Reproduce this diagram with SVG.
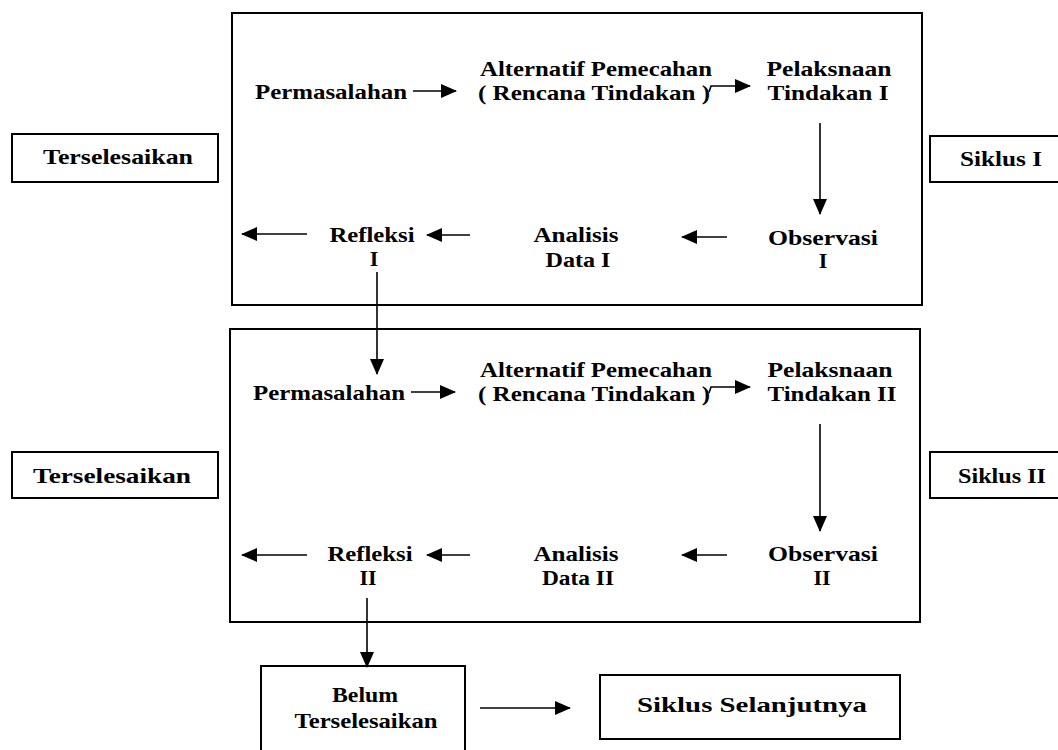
<svg xmlns="http://www.w3.org/2000/svg" width="1058" height="750" viewBox="0 0 1058 750">
<defs>
<marker id="ah" markerUnits="userSpaceOnUse" markerWidth="16" markerHeight="14" refX="15" refY="7" orient="auto">
<path d="M0,0 L16,7 L0,14 Z" fill="#000"/>
</marker>
<style>
.box{fill:#fff;stroke:#000;stroke-width:2}
.t{font-family:"Liberation Serif","Times New Roman",serif;font-weight:bold;font-size:22px;fill:#000;text-anchor:middle}
.c{fill:none;stroke:#000;stroke-width:1.6}
</style>
</defs>
<rect width="1058" height="750" fill="#fff"/>
<g id="cycle1"><rect class="box" x="232" y="13" width="690" height="292"/></g>
<g id="cycle2"><rect class="box" x="230" y="329" width="690" height="293"/></g>
<g id="permasalahan1"><text class="t" x="331" y="99" textLength="152" lengthAdjust="spacingAndGlyphs">Permasalahan</text></g>
<g id="alternatif1"><text class="t" x="596" y="76" textLength="232" lengthAdjust="spacingAndGlyphs">Alternatif Pemecahan</text><text class="t" x="594" y="100" textLength="232" lengthAdjust="spacingAndGlyphs">( Rencana Tindakan )</text></g>
<g id="pelaksanaan1"><text class="t" x="829" y="76" textLength="125" lengthAdjust="spacingAndGlyphs">Pelaksnaan</text><text class="t" x="828" y="100" textLength="121" lengthAdjust="spacingAndGlyphs">Tindakan I</text></g>
<g id="observasi1"><text class="t" x="823" y="245" textLength="110" lengthAdjust="spacingAndGlyphs">Observasi</text><text class="t" x="823" y="268">I</text></g>
<g id="analisis1"><text class="t" x="576" y="242" textLength="85" lengthAdjust="spacingAndGlyphs">Analisis</text><text class="t" x="578" y="267" textLength="65" lengthAdjust="spacingAndGlyphs">Data I</text></g>
<g id="refleksi1"><text class="t" x="372" y="242" textLength="85" lengthAdjust="spacingAndGlyphs">Refleksi</text><text class="t" x="374" y="266">I</text></g>
<g id="terselesaikan1"><rect class="box" x="12" y="134" width="206" height="48"/><text class="t" x="118" y="164" textLength="150" lengthAdjust="spacingAndGlyphs">Terselesaikan</text></g>
<g id="siklus1"><rect class="box" x="930" y="136" width="140" height="46"/><text class="t" x="1001" y="166" textLength="82" lengthAdjust="spacingAndGlyphs">Siklus I</text></g>
<g id="permasalahan2"><text class="t" x="329" y="400" textLength="152" lengthAdjust="spacingAndGlyphs">Permasalahan</text></g>
<g id="alternatif2"><text class="t" x="596" y="377" textLength="232" lengthAdjust="spacingAndGlyphs">Alternatif Pemecahan</text><text class="t" x="594" y="401" textLength="232" lengthAdjust="spacingAndGlyphs">( Rencana Tindakan )</text></g>
<g id="pelaksanaan2"><text class="t" x="830" y="377" textLength="125" lengthAdjust="spacingAndGlyphs">Pelaksnaan</text><text class="t" x="832" y="401" textLength="129" lengthAdjust="spacingAndGlyphs">Tindakan II</text></g>
<g id="observasi2"><text class="t" x="823" y="561" textLength="110" lengthAdjust="spacingAndGlyphs">Observasi</text><text class="t" x="822" y="585">II</text></g>
<g id="analisis2"><text class="t" x="576" y="561" textLength="85" lengthAdjust="spacingAndGlyphs">Analisis</text><text class="t" x="578" y="585" textLength="72" lengthAdjust="spacingAndGlyphs">Data II</text></g>
<g id="refleksi2"><text class="t" x="370" y="561" textLength="85" lengthAdjust="spacingAndGlyphs">Refleksi</text><text class="t" x="368" y="585">II</text></g>
<g id="terselesaikan2"><rect class="box" x="12" y="452" width="206" height="46"/><text class="t" x="112" y="483" textLength="158" lengthAdjust="spacingAndGlyphs">Terselesaikan</text></g>
<g id="siklus2"><rect class="box" x="930" y="452" width="140" height="46"/><text class="t" x="1002" y="483" textLength="88" lengthAdjust="spacingAndGlyphs">Siklus II</text></g>
<g id="belum"><rect class="box" x="261" y="666" width="204" height="95"/><text class="t" x="365" y="702" textLength="66" lengthAdjust="spacingAndGlyphs">Belum</text><text class="t" x="366" y="728" textLength="143" lengthAdjust="spacingAndGlyphs">Terselesaikan</text></g>
<g id="selanjutnya"><rect class="box" x="600" y="675" width="300" height="64"/><text class="t" x="752" y="712" textLength="230" lengthAdjust="spacingAndGlyphs">Siklus  Selanjutnya</text></g>
<g id="connectors">
<line class="c" x1="413" y1="91" x2="456" y2="91" marker-end="url(#ah)"/>
<polyline class="c" points="709,92 711,86 750,86" marker-end="url(#ah)"/>
<line class="c" x1="820" y1="123" x2="820" y2="214" marker-end="url(#ah)"/>
<line class="c" x1="727" y1="237" x2="682" y2="237" marker-end="url(#ah)"/>
<line class="c" x1="470" y1="235" x2="427" y2="235" marker-end="url(#ah)"/>
<line class="c" x1="307" y1="234" x2="242" y2="234" marker-end="url(#ah)"/>
<line class="c" x1="377" y1="272" x2="377" y2="374" marker-end="url(#ah)"/>
<line class="c" x1="411" y1="392" x2="455" y2="392" marker-end="url(#ah)"/>
<polyline class="c" points="709,393 711,387 750,387" marker-end="url(#ah)"/>
<line class="c" x1="820" y1="424" x2="820" y2="531" marker-end="url(#ah)"/>
<line class="c" x1="727" y1="555" x2="682" y2="555" marker-end="url(#ah)"/>
<line class="c" x1="470" y1="555" x2="427" y2="555" marker-end="url(#ah)"/>
<line class="c" x1="307" y1="555" x2="242" y2="555" marker-end="url(#ah)"/>
<line class="c" x1="367" y1="598" x2="367" y2="667" marker-end="url(#ah)"/>
<line class="c" x1="480" y1="708" x2="570" y2="708" marker-end="url(#ah)"/>
</g>
</svg>
